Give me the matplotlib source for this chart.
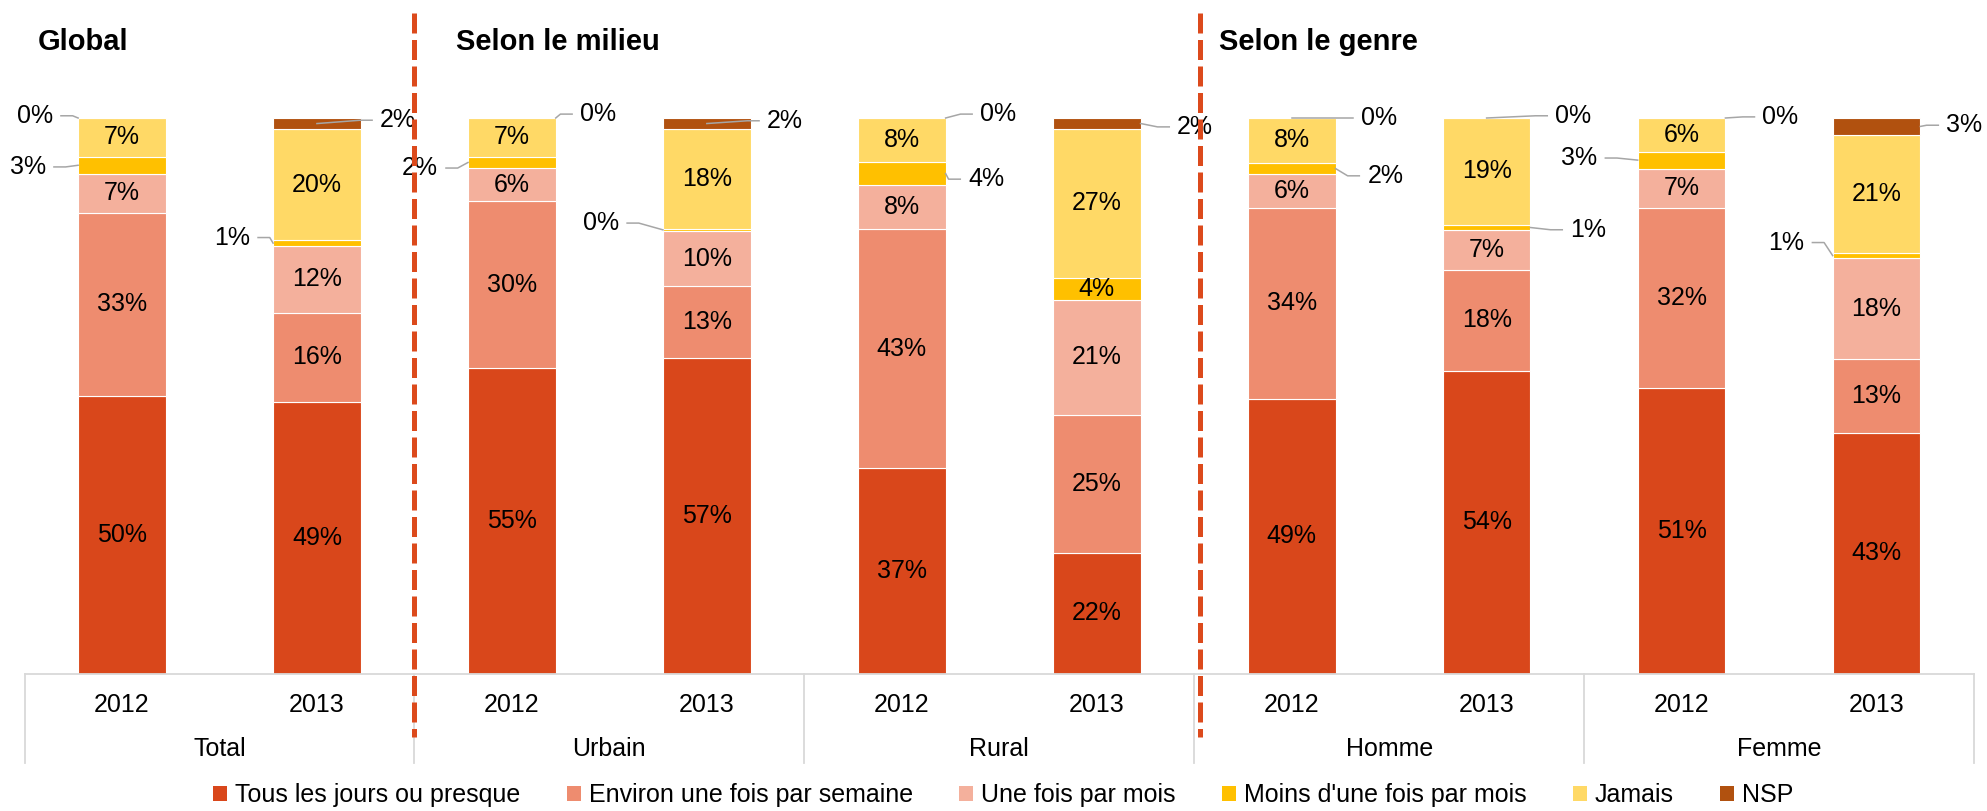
import matplotlib
matplotlib.use("Agg")
import matplotlib.pyplot as plt
from matplotlib.patches import Patch
import numpy as np

plt.rcParams["font.family"] = ["Liberation Sans", "DejaVu Sans"]

# bars: 2012/2013 for each group
years = ["2012", "2013"] * 5
groups = ["Total", "Urbain", "Rural", "Homme", "Femme"]
titles = ["Global", "Selon le milieu", "Selon le genre"]

series_names = ["Tous les jours ou presque", "Environ une fois par semaine", "Une fois par mois",
                "Moins d'une fois par mois", "Jamais", "NSP"]
tous = [50, 49, 55, 57, 37, 22, 49, 54, 51, 43]
environ = [33, 16, 30, 13, 43, 25, 34, 18, 32, 13]
une_fois = [7, 12, 6, 10, 8, 21, 6, 7, 7, 18]
moins = [3, 1, 2, 0.4, 4, 4, 2, 1, 3, 1]
jamais = [7, 20, 7, 18, 8, 27, 8, 19, 6, 21]
nsp = [0, 2, 0, 2, 0, 2, 0, 0, 0, 3]

colors = ["#D9471B", "#EE8C6F", "#F4B09C", "#FFC000", "#FFD966", "#B1510F"]
red = "#DC4A1C"
grid_grey = "#D9D9D9"
leader_grey = "#A6A6A6"

values = np.array([tous, environ, une_fois, moins, jamais, nsp], dtype=float)
# 100% stacked, like the original
shares = values / values.sum(axis=0) * 100

# small labels placed outside: (bar, series, anchor side, text x, text y)
callouts = [
    (0, 5, "L", -0.354, 100.4),
    (0, 3, "L", -0.390, 91.2),
    (1, 5, "C", 1.324, 99.6),
    (1, 3, "L", 0.657, 78.5),
    (2, 3, "L", 1.621, 91.0),
    (2, 5, "R", 2.350, 100.7),
    (3, 3, "L", 2.550, 81.1),
    (3, 5, "C", 3.309, 99.5),
    (4, 5, "R", 4.402, 100.7),
    (4, 3, "R", 4.341, 89.0),
    (5, 5, "R", 5.413, 98.4),
    (6, 5, "C", 6.357, 100.0),
    (6, 3, "R", 6.388, 89.6),
    (7, 5, "C", 7.352, 100.4),
    (7, 3, "R", 7.429, 79.9),
    (8, 3, "L", 7.568, 92.8),
    (8, 5, "R", 8.415, 100.2),
    (9, 5, "R", 9.358, 98.7),
    (9, 3, "L", 8.630, 77.6),
]

fig = plt.figure(figsize=(19.87, 8.11), dpi=100)
ax = fig.add_axes([24.5 / 1987, 1 - 674 / 811, 1949.5 / 1987, 556 / 811])

x = np.arange(len(years))
w = 0.45
bottom = np.zeros(len(years))
for k in range(len(series_names)):
    ax.bar(x, shares[k], w, bottom=bottom, color=colors[k], edgecolor="white", linewidth=0.8,
           label=series_names[k], zorder=2)
    bottom += shares[k]

cum = np.cumsum(shares, axis=0)
low = cum - shares
outside = {(b, s) for b, s, _, _, _ in callouts}

fs = 18
for s in range(len(series_names)):
    for b in range(len(years)):
        if (b, s) in outside or values[s, b] < 1:
            continue
        ax.text(b, low[s, b] + shares[s, b] / 2, "%d%%" % round(values[s, b]),
                ha="center", va="center", fontsize=fs, zorder=4)

g, h = 0.041, 0.06
for b, s, side, tx, ty in callouts:
    ay = low[s, b] + shares[s, b] / 2
    lab = "%d%%" % round(values[s, b])
    if side == "L":
        x0 = tx + g
        x1 = x0 + h
        ax_ = b - w / 2
        ha = "right"
    elif side == "R":
        x0 = tx - g
        x1 = x0 - h
        ax_ = b + w / 2
        ha = "left"
    else:
        x0 = tx - g
        x1 = x0 - h
        ax_ = b
        ha = "left"
    ax.plot([x0, x1, ax_], [ty, ty, ay], color=leader_grey, lw=1.1, clip_on=False, zorder=5)
    ax.text(tx, ty, lab, ha=ha, va="center", fontsize=fs, zorder=5)

ax.set_xlim(-0.5, 9.5)
ax.set_ylim(0, 100)
ax.set_xticks([])
ax.set_yticks([])
for sp in ["top", "left", "right"]:
    ax.spines[sp].set_visible(False)
ax.spines["bottom"].set_color(grid_grey)
ax.spines["bottom"].set_linewidth(1.3)

# two-level category axis
tr = ax.get_xaxis_transform()
for b in range(len(years)):
    ax.text(b, -0.056, years[b], transform=tr, ha="center", va="center", fontsize=fs)
for i, grp in enumerate(groups):
    ax.text(2 * i + 0.5, -0.135, grp, transform=tr, ha="center", va="center", fontsize=fs)
for xs in np.arange(-0.5, 10, 2):
    ax.plot([xs, xs], [0, -0.160], transform=tr, color=grid_grey, lw=1.3, clip_on=False)

# red dashed section separators
for xs in [1.5, 5.53]:
    ax.plot([xs, xs], [1.189, -0.113], transform=tr, color=red, lw=3.6,
            linestyle=(0, (4, 1.3)), clip_on=False, zorder=6)

for t, xp in zip(titles, [38, 456, 1219]):
    fig.text(xp / 1987, 1 - 42 / 811, t, fontsize=21, fontweight="bold", ha="left", va="center")

handles = [Patch(facecolor=c, edgecolor="none") for c in colors]
fig.legend(handles, series_names, loc="center", bbox_to_anchor=(0.505, 1 - 795 / 811), ncol=6,
           frameon=False, fontsize=fs, handlelength=0.56, handleheight=0.56, handletextpad=0.32,
           columnspacing=1.85, borderpad=0)

fig.savefig("out.png", dpi=100, facecolor="white")
